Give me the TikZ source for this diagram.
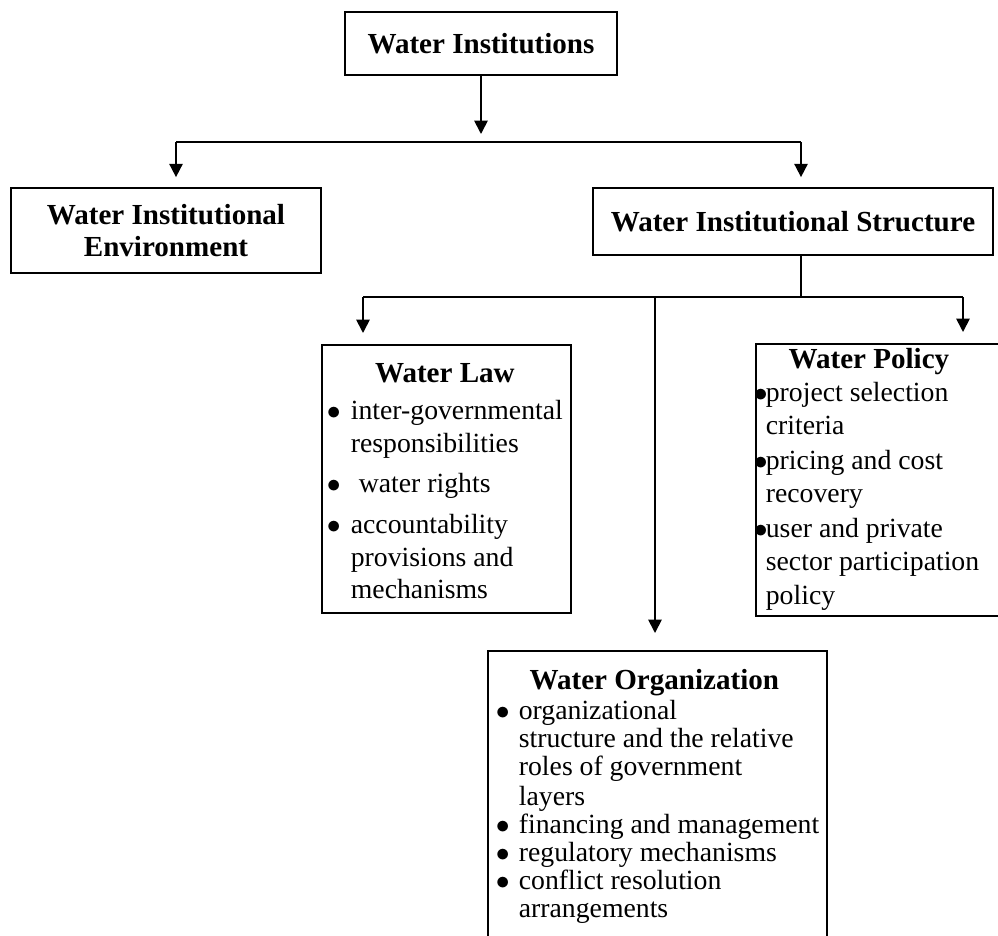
\documentclass[tikz,border=0pt]{standalone}
\usepackage{fontspec}
\setmainfont{Liberation Serif}
\usetikzlibrary{arrows.meta}
\newdimen\px \px=0.75pt
\newcommand{\bul}[1]{\makebox[#1\px][l]{$\bullet$}}
\newcommand{\ttl}[2]{\makebox[#1\px]{\fontsize{21.8pt}{24pt}\selectfont\bfseries #2}}

\begin{document}
\begin{tikzpicture}[x=0.75pt,y=0.75pt,line width=1.3pt,
  headbox/.style={draw,rectangle,inner sep=0pt,align=center,font=\fontsize{21.8pt}{24pt}\selectfont\bfseries},
  listbox/.style={draw,rectangle,inner sep=0pt,anchor=north west},
  listtext/.style={inner sep=0pt,anchor=north west,align=left},
  arr/.style={-{Triangle[width=10pt,length=10pt]}}]
\useasboundingbox (0,0) rectangle (998,-935);
\clip (0,0) rectangle (998,-935);
\node[headbox,minimum width=272\px,minimum height=63\px] (inst) at (481,-43.5) {Water Institutions};
\node[headbox,minimum width=310\px,minimum height=85\px] (env) at (166,-230.5) {Water Institutional\\Environment};
\node[headbox,minimum width=400\px,minimum height=67\px] (struct) at (793,-221.5) {Water Institutional Structure};
\node[listbox,minimum width=249\px,minimum height=268\px] (law) at (321,-344) {};
\node[listbox,minimum width=250\px,minimum height=272\px] (pol) at (755,-343) {};
\node[listbox,minimum width=339\px,minimum height=300\px] (org) at (487,-650) {};
\node[listtext,font=\fontsize{20.8pt}{24.5pt}\selectfont] (lawtxt) at (326,-363) {%
  \ttl{236}{Water Law}\\[3pt]
  \bul{24}inter-governmental\\
  \hspace*{24\px}responsibilities\\[6pt]
  \bul{32}water rights\\[6pt]
  \bul{24}accountability\\
  \hspace*{24\px}provisions and\\
  \hspace*{24\px}mechanisms};
\node[listtext,font=\fontsize{20.8pt}{25pt}\selectfont] (poltxt) at (753,-347) {%
  \ttl{230}{Water Policy}\\
  \bul{12}project selection\\
  \hspace*{12\px}criteria\\[1pt]
  \bul{12}pricing and cost\\
  \hspace*{12\px}recovery\\[1pt]
  \bul{12}user and private\\
  \hspace*{12\px}sector participation\\
  \hspace*{12\px}policy};
\node[listtext,font=\fontsize{20.8pt}{21pt}\selectfont] (orgtxt) at (495,-668) {%
  \ttl{317}{Water Organization}\\[2pt]
  \bul{23}organizational\\
  \hspace*{23\px}structure and the relative\\
  \hspace*{23\px}roles of government\\[1pt]
  \hspace*{23\px}layers\\
  \bul{23}financing and management\\
  \bul{23}regulatory mechanisms\\
  \bul{23}conflict resolution\\
  \hspace*{23\px}arrangements};
\coordinate (b1) at (481,-142);
\coordinate (b1l) at (176,-142);
\coordinate (b1r) at (801,-142);
\coordinate (b2) at (801,-297);
\coordinate (b2l) at (363,-297);
\coordinate (b2c) at (655,-297);
\coordinate (b2r) at (963,-297);
\draw[arr,shorten >=8\px] (inst) -- (b1);
\draw (b1l) -- (b1r);
\draw[arr,shorten >=10\px] (b1l) -- (b1l |- env.north);
\draw[arr,shorten >=10\px] (b1r) -- (b1r |- struct.north);
\draw (b2 |- struct.south) -- (b2);
\draw (b2l) -- (b2r);
\draw[arr,shorten >=11\px] (b2l) -- (b2l |- law.north);
\draw[arr,shorten >=11\px] (b2r) -- (b2r |- pol.north);
\draw[arr,shorten >=17\px] (b2c) -- (b2c |- org.north);
\end{tikzpicture}
\end{document}
